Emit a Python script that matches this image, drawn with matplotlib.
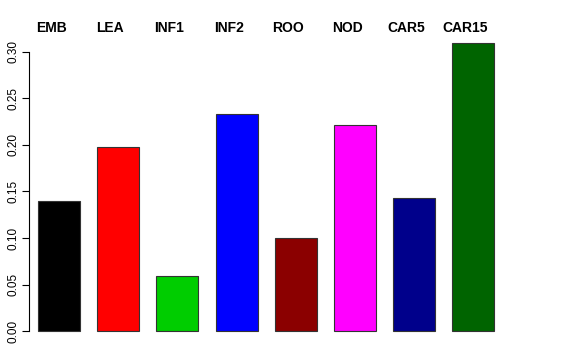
import matplotlib
matplotlib.use("Agg")
import matplotlib.pyplot as plt
import numpy as np

plt.rcParams["font.family"] = ["Liberation Sans", "DejaVu Sans"]

# values
names = ["EMB", "LEA", "INF1", "INF2", "ROO", "NOD", "CAR5", "CAR15"]
values = [0.140, 0.198, 0.059, 0.233, 0.100, 0.221, 0.143, 0.310]
colors = ["black", "red", "#00CD00", "blue", "#8B0000", "magenta", "#00008B", "#006400"]
yticks = [0.00, 0.05, 0.10, 0.15, 0.20, 0.25, 0.30]

W, H = 576, 360
fig = plt.figure(figsize=(W / 100, H / 100), dpi=100)

# axes placed in pixel terms (spine at x=29, y=0 at 331, 0.30 at 52)
left_px, right_px = 29.0, 532.6
ylo, yhi = -0.01, 0.32
px_per_unit = (331 - 52) / 0.30
bottom_px = 331 + (0 - ylo) * px_per_unit
top_px = 331 - (yhi - 0) * px_per_unit
ax = fig.add_axes([left_px / W, 1 - bottom_px / H,
                   (right_px - left_px) / W, (bottom_px - top_px) / H])

x = np.arange(len(names))
ax.bar(x, values, width=0.71, color=colors, edgecolor="#333333", linewidth=0.8)
ax.set_xlim(-0.507, 8.0)
ax.set_ylim(ylo, yhi)

# names sit a little left of the bar centres in the original
label_y = (331 - 28) / px_per_unit
for xi, name in zip(x, names):
    ax.text(xi - 0.135, label_y, name, ha="center", va="center", fontsize=10,
            fontweight="bold", clip_on=False)

for s in ["top", "right", "bottom"]:
    ax.spines[s].set_visible(False)
ax.spines["left"].set_bounds(0, 0.30)
ax.spines["left"].set_linewidth(0.8)
ax.set_xticks([])
ax.set_yticks(yticks)
ax.set_yticklabels([f"{t:.2f}" for t in yticks], rotation=90, va="center", fontsize=8.5)
ax.tick_params(axis="y", length=5, width=0.8, pad=2)

fig.savefig("out.png", dpi=100)
